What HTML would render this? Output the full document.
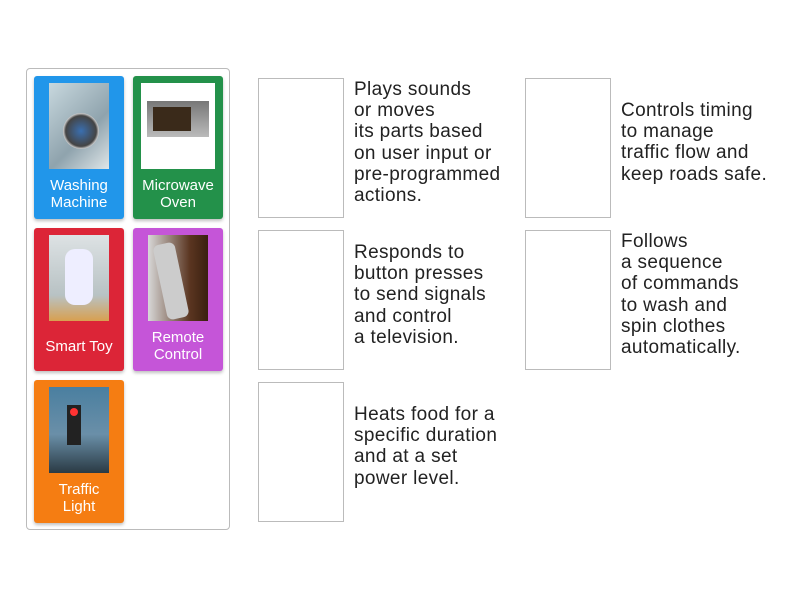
<!DOCTYPE html>
<html><head><meta charset="utf-8"><style>
body{margin:0;width:800px;height:600px;background:#fff;position:relative;font-family:"Liberation Sans",sans-serif;overflow:hidden}
.box{position:absolute;left:26px;top:68px;width:204px;height:462px;border:1px solid #bbb;border-radius:4px;box-sizing:border-box}
.t{position:absolute;width:90px;height:143px;border-radius:3px;box-shadow:0 2px 3px rgba(0,0,0,.25)}
.img{position:absolute;top:7px;left:15px;width:60px;height:86px}
.lab{position:absolute;left:0;width:100%;text-align:center;color:#fff;font-size:15px;line-height:17px}
.d{position:absolute;width:86px;height:140px;border:1px solid #bbb;box-sizing:border-box}
.tx{position:absolute;font-size:19px;letter-spacing:0.35px;line-height:21.2px;color:#222}
</style></head><body>
<div class="box"></div>
<div class="t" style="left:34px;top:76px;background:#2196ea"><div class="img" style="background:linear-gradient(135deg,#c8d8de,#8fa3ad 60%,#dfe6e8)"><div style="position:absolute;left:14px;top:30px;width:36px;height:36px;border-radius:50%;background:radial-gradient(#3a6fb0,#444 60%,#ccc 70%)"></div></div><div class="lab" style="top:101px">Washing<br>Machine</div></div>
<div class="t" style="left:133px;top:76px;background:#23914a"><div class="img" style="left:8px;width:74px;background:#fff"><div style="position:absolute;left:6px;top:18px;width:62px;height:36px;background:linear-gradient(#777,#bbb);"><div style="position:absolute;left:6px;top:6px;width:38px;height:24px;background:#3a2a1a"></div></div></div><div class="lab" style="top:101px">Microwave<br>Oven</div></div>
<div class="t" style="left:34px;top:228px;background:#dc2537"><div class="img" style="background:linear-gradient(#dde2e4,#b8c2c4 70%,#d8a050)"><div style="position:absolute;left:16px;top:14px;width:28px;height:56px;border-radius:10px;background:#eef;"></div></div><div class="lab" style="top:110px">Smart Toy</div></div>
<div class="t" style="left:133px;top:228px;background:#c555d8"><div class="img" style="background:linear-gradient(90deg,#d8d8d8,#5a3520 70%,#3a2010)"><div style="position:absolute;left:12px;top:8px;width:22px;height:76px;transform:rotate(-12deg);background:#ccc;border-radius:6px"></div></div><div class="lab" style="top:101px">Remote<br>Control</div></div>
<div class="t" style="left:34px;top:380px;background:#f57d12"><div class="img" style="background:linear-gradient(#4a7fa0,#6a8fa8 55%,#2a3a44)"><div style="position:absolute;left:18px;top:18px;width:14px;height:40px;background:#222"><div style="margin:3px;width:8px;height:8px;border-radius:50%;background:#f33"></div></div></div><div class="lab" style="top:101px">Traffic<br>Light</div></div>
<div class="d" style="left:258px;top:78px"></div>
<div class="d" style="left:258px;top:230px"></div>
<div class="d" style="left:258px;top:382px"></div>
<div class="d" style="left:525px;top:78px"></div>
<div class="d" style="left:525px;top:230px"></div>
<div class="tx" style="left:354px;top:79px">Plays sounds<br>or moves<br>its parts based<br>on user input or<br>pre-programmed<br>actions.</div>
<div class="tx" style="left:354px;top:242px">Responds to<br>button presses<br>to send signals<br>and control<br>a television.</div>
<div class="tx" style="left:354px;top:404px">Heats food for a<br>specific duration<br>and at a set<br>power level.</div>
<div class="tx" style="left:621px;top:100px">Controls timing<br>to manage<br>traffic flow and<br>keep roads safe.</div>
<div class="tx" style="left:621px;top:231px">Follows<br>a sequence<br>of commands<br>to wash and<br>spin clothes<br>automatically.</div>
</body></html>
